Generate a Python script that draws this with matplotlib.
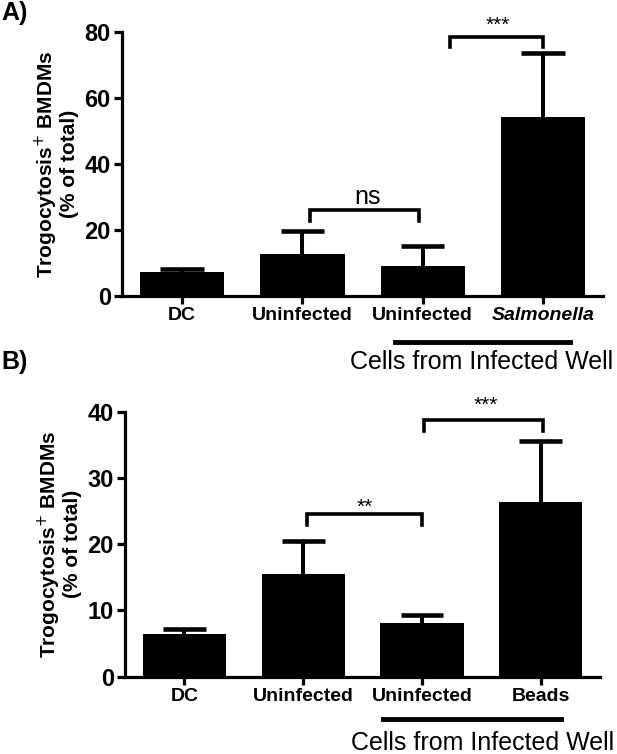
"""Trogocytosis+ BMDMs bar panels (A: Salmonella, B: beads)."""

import matplotlib
matplotlib.use("Agg")
import matplotlib.pyplot as plt

# ── Data ──────────────────────────────────────────────────────────────
cats_a = ["DC", "Uninfected", "Uninfected", "Salmonella"]
means_a = [7.3, 12.6, 9.2, 54.3]
err_a = [1.0, 7.2, 6.0, 19.2]

cats_b = ["DC", "Uninfected", "Uninfected", "Beads"]
means_b = [6.4, 15.45, 8.1, 26.4]
err_b = [0.85, 5.05, 1.2, 9.1]

# brackets: (x_left, x_right, y_top, y_legs, label, label_x, label_y)
brackets_a = [
    (1.06, 1.97, 26.1, 22.8, "ns", 1.54, 30.0),
    (2.23, 3.00, 78.6, 75.5, "***", 2.62, 82.0),
]
brackets_b = [
    (1.03, 2.00, 24.5, 22.9, "**", 1.52, 25.6),
    (2.02, 3.02, 38.75, 37.1, "***", 2.54, 41.0),
]

group_label = "Cells from Infected Well"
ylabel = "Trogocytosis$^{+}$ BMDMs\n(% of total)"

BOLD = ["Liberation Sans", "DejaVu Sans"]
NARROW = ["Liberation Sans Narrow", "Liberation Sans", "DejaVu Sans"]
LW = 2.3
CAP_HALF = 0.18   # half-width of error caps, in bar-axis units


def panel(ax, cats, means, errs, ymax, ystep, brackets, group_x, group_y,
          text_x, text_y, italic_last=False):
    xs = list(range(len(cats)))
    tops = [m + e for m, e in zip(means, errs)]
    ax.bar(xs, means, width=0.7, color="black", zorder=2)
    # upper-only error bars
    ax.vlines(xs, means, tops, color="black", lw=LW + 0.6, zorder=1)
    ax.hlines(tops, [x - CAP_HALF for x in xs], [x + CAP_HALF for x in xs],
              color="black", lw=LW + 1.0, zorder=1)
    ax.set_xlim(-0.5, 3.5)
    ax.set_ylim(0, ymax)
    ax.set_yticks(range(0, ymax + 1, ystep))
    ax.set_xticks(xs)
    ax.set_xticklabels(cats, fontsize=14, fontweight="bold", family=BOLD)
    if italic_last:
        ax.get_xticklabels()[-1].set_fontstyle("italic")
    for lab in ax.get_yticklabels():
        lab.set_fontsize(17)
        lab.set_fontweight("bold")
        lab.set_family(NARROW)
    for side in ("top", "right"):
        ax.spines[side].set_visible(False)
    for side in ("left", "bottom"):
        ax.spines[side].set_linewidth(LW)
    ax.tick_params(axis="both", width=LW, length=6, direction="out", pad=2)
    ax.set_ylabel(ylabel, fontsize=15, fontweight="bold", family=BOLD,
                  labelpad=4, linespacing=1.0)

    for x0, x1, ytop, yleg, lab, lx, ly in brackets:
        ax.plot([x0, x0, x1, x1], [yleg, ytop, ytop, yleg], color="black",
                lw=LW + 0.3, clip_on=False, solid_joinstyle="miter")
        ax.text(lx, ly, lab, ha="center", va="center",
                fontsize=18 if lab == "ns" else 15, family=NARROW,
                clip_on=False)

    tr = ax.get_xaxis_transform()
    ax.plot(group_x, [group_y, group_y], color="black", lw=3.5,
            transform=tr, clip_on=False)
    ax.text(text_x, text_y, group_label, transform=tr, ha="center",
            va="center", fontsize=18, family=NARROW)


fig = plt.figure(figsize=(6.17, 7.54), dpi=100)
ax_a = fig.add_axes([0.1977, 0.6074, 0.7800, 0.3502])
ax_b = fig.add_axes([0.2026, 0.1025, 0.7700, 0.3515])

panel(ax_a, cats_a, means_a, err_a, 80, 20, brackets_a,
      [1.77, 3.22], -0.173, 2.49, -0.250, italic_last=True)
panel(ax_b, cats_b, means_b, err_b, 40, 10, brackets_b,
      [1.67, 3.17], -0.161, 2.51, -0.250)

fig.text(0.002, 0.999, "A)", fontsize=18, fontweight="bold", family=NARROW,
         va="top", ha="left")
fig.text(0.002, 0.520, "B)", fontsize=18, fontweight="bold", family=NARROW,
         va="center", ha="left")

fig.savefig("out.png", dpi=100)
